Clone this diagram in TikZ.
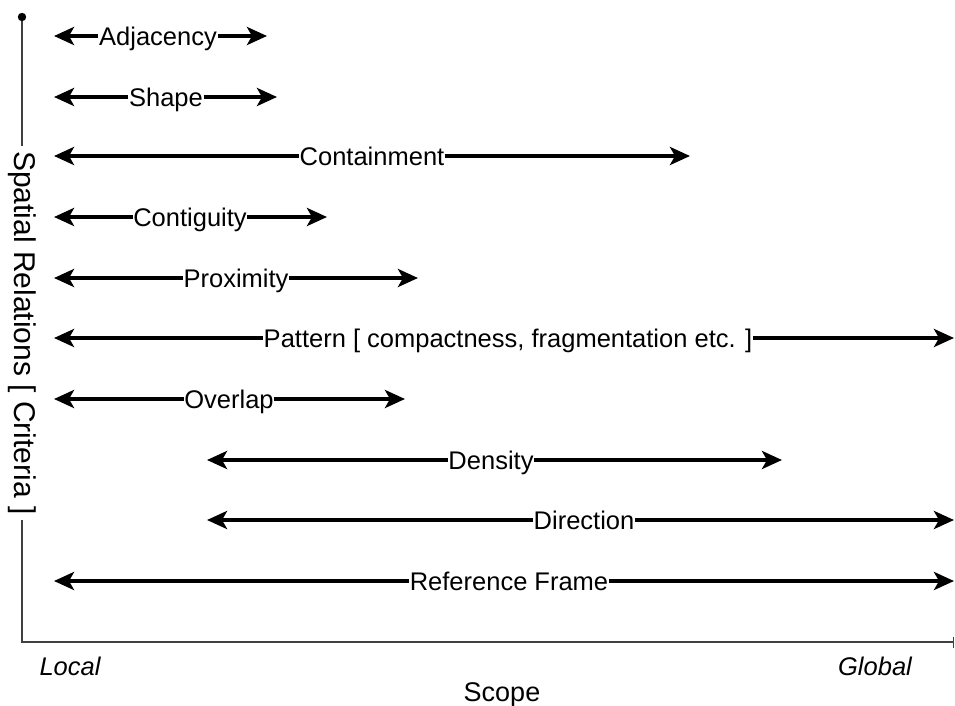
\documentclass[tikz,border=0pt]{standalone}
\usepackage{fontspec}
\setmainfont{Liberation Sans}
\usetikzlibrary{arrows.meta}
\tikzset{
  lab/.style={font=\fontsize{25.5}{30}\selectfont, inner xsep=0.5pt, inner ysep=0pt, text height=18.4pt, text depth=0pt},
  arr/.style={line width=4pt, -{Stealth[length=20pt,width=18pt,inset=5pt]}},
  axis/.style={line width=1.5pt, draw=black!75},
  ends/.style={font=\fontsize{25.5}{30}\selectfont\itshape, inner sep=0pt, text height=18.4pt, text depth=0pt},
}
\begin{document}
\begin{tikzpicture}[x=1pt,y=-1pt]
\useasboundingbox (0,0) rectangle (955,706);
% axes
\coordinate (dot) at (22,17);
\coordinate (corner) at (22,642);
\coordinate (xend) at (954,642);
\node[font=\fontsize{30}{34}\selectfont, rotate=-90, inner xsep=5pt, inner ysep=0pt] (ylab) at (22,333) {Spatial Relations [ Criteria ]};
\draw[axis] (dot) -- (ylab.west);
\draw[axis, -{Bar[width=11pt,line width=1.5pt]}] (ylab.east) -- (corner) -- (xend);
\fill[black] (dot) circle (4.2pt);
% rows
\def\row#1#2#3#4#5#6{%
  \coordinate (#1L) at (#3,#2);
  \coordinate (#1R) at (#4,#2);
  \node[lab] (#1) at (#5,#2) {#6};
  \draw[arr] (#1) -- (#1L);
  \draw[arr] (#1) -- (#1R);
}
\row{adj}{36}{54}{267}{158}{Adjacency}
\row{sha}{97}{54}{277}{166}{Shape}
\row{con}{156}{54}{690}{372}{Containment}
\row{cot}{217}{54}{327}{190}{Contiguity}
\row{pro}{278}{54}{418}{236}{Proximity}
\row{pat}{338}{54}{954}{508}{Pattern [ compactness, fragmentation etc. ]}
\row{ove}{399}{54}{405}{229}{Overlap}
\row{den}{460}{207}{782}{491}{Density}
\row{dir}{520}{207}{954}{584}{Direction}
\row{ref}{581}{54}{954}{509}{Reference Frame}
% scope labels
\node[ends] (local) at (70,666) {Local};
\node[ends] (global) at (875,666) {Global};
\node[font=\fontsize{27}{32}\selectfont, inner sep=0pt, text height=19.4pt, text depth=0pt] (scope) at (502,692) {Scope};
\end{tikzpicture}
\end{document}
